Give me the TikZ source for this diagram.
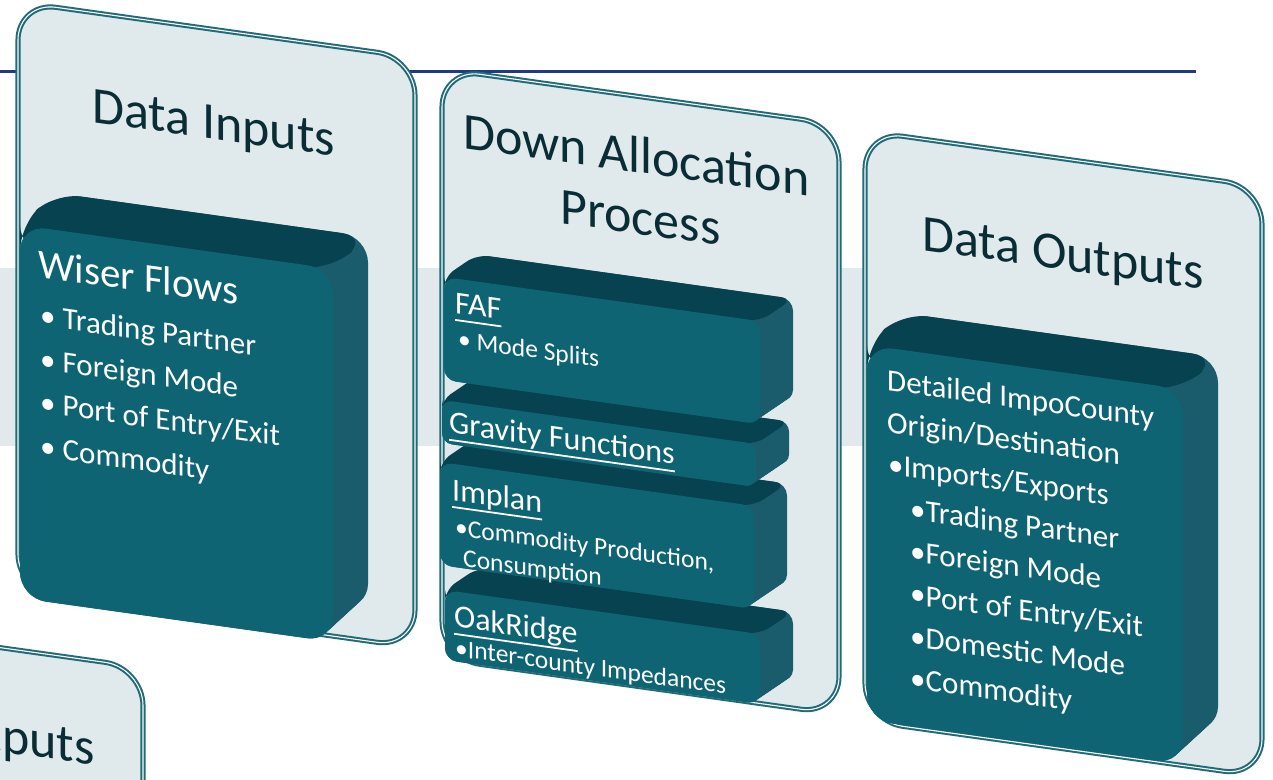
\documentclass[tikz,border=0pt]{standalone}
\usepackage{fontspec}
\setmainfont{Carlito}
\definecolor{cPanel}{HTML}{E0E9EC}
\definecolor{cBand}{HTML}{E1E9EC}
\definecolor{cEdge}{HTML}{1F6B78}
\definecolor{cNavy}{HTML}{203A87}
\definecolor{cFront}{HTML}{0F6474}
\definecolor{cTop}{HTML}{074250}
\definecolor{cSide}{HTML}{1A5C6B}
\definecolor{cInk}{HTML}{0A2C35}
\newcommand{\subraya}[1]{\setbox0\hbox{#1}\rlap{\smash{\vrule width\wd0 height -6pt depth 7.8pt}}\box0}
\tikzset{
  panel/.style={fill=cPanel,draw=cEdge,double=white,double distance=1.1pt,line width=2pt,rounded corners=38pt},
  head/.style={font=\fontsize{52}{62}\selectfont,text=cInk,inner sep=0pt,anchor=base west},
  boxhead/.style={font=\fontsize{41}{48}\selectfont,text=white,inner sep=0pt,anchor=base west},
  boxitem/.style={font=\fontsize{31}{37}\selectfont,text=white,inner sep=0pt,anchor=base west},
  stackhead/.style={font=\fontsize{32}{38}\selectfont,text=white,inner sep=0pt,anchor=base west},
  stackitem/.style={font=\fontsize{25.5}{30}\selectfont,text=white,inner sep=0pt,anchor=base west}
}
\begin{document}
\begin{tikzpicture}[x=1pt,y=-1pt]
\useasboundingbox (0,0) rectangle (1273,779);
\clip (0,0) rectangle (1273,779);
\fill[cBand] (0,268) rectangle (1250,446);
\draw[cNavy,line width=2.2pt] (0,71.5) -- (1196,71.5);
\begin{scope}[yslant=-0.14,transform shape]
% paneles
\foreach \Xc/\Yc in {-254/647.6, 18/-0.5, 442/7.1, 865/9.9}
{
	\draw[panel] (\Xc,\Yc) rectangle ++(397,590);
}
% bloques
\foreach \Xc/\Yc/\Wc/\Hc/\Rc/\Ec/\Fc in
{445/527.7/315/70/12/33/-27, 440/400.4/314/103/12/33/-27,
 442/338.1/314/43/10/33/-27, 444/214.8/316/103/12/33/-27,
 20/222.2/313/373/26/35/-37, 867/223.6/316/375/26/35/-37}
{
	\foreach \k in {0,...,20}
		\fill[cSide,rounded corners=\Rc pt]
			(\Xc+\k*\Ec/20,\Yc+\k*\Fc/20) rectangle ++(\Wc,\Hc);
	\fill[cTop,rounded corners=\Rc pt]
		(\Xc,\Yc+\Rc) -- (\Xc,\Yc) -- (\Xc+\Ec,\Yc+\Fc)
		-- (\Xc+\Wc+\Ec,\Yc+\Fc) -- (\Xc+\Wc,\Yc) -- cycle;
	\fill[cFront,rounded corners=\Rc pt] (\Xc,\Yc) rectangle ++(\Wc,\Hc);
}
% textos
\foreach \Xc/\Yc/\Estilo/\Texto [count=\n] in
{92/109.1/head/{Data Inputs}, 463/83.2/head/{Down Allocation},
 560/144.6/head/{Process}, 922/120.9/head/{Data Outputs},
 38/271.7/boxhead/{Wiser Flows},
 40/320/boxitem/{• Trading Partner}, 40/364/boxitem/{• Foreign Mode},
 40/407/boxitem/{• Port of Entry/Exit}, 40/451/boxitem/{• Commodity},
 455/249.3/stackhead/{\subraya{FAF}}, 458/283.4/stackitem/{• Mode Splits},
 449/370/stackhead/{\subraya{Gravity Functions}},
 452/436.7/stackhead/{\subraya{Implan}},
 455/471.6/stackitem/{•Commodity Production,}, 463/501.5/stackitem/{Consumption},
 454/563.3/stackhead/{\subraya{OakRidge}},
 455/592.5/stackitem/{•Inter-county Impedances},
 887/266/boxitem/{Detailed ImpoCounty}, 887/308/boxitem/{Origin/Destination},
 888/350/boxitem/{•Imports/Exports}, 910/392/boxitem/{•Trading Partner},
 910/434/boxitem/{•Foreign Mode}, 910/476.5/boxitem/{•Port of Entry/Exit},
 910/518.6/boxitem/{•Domestic Mode}, 910/560.7/boxitem/{•Commodity}}
{
	\node[\Estilo] (txt\n) at (\Xc,\Yc) {\Texto};
}
\node[head,anchor=base east] (txtcut) at (95,751.7) {Outputs};
\end{scope}
\end{tikzpicture}
\end{document}
